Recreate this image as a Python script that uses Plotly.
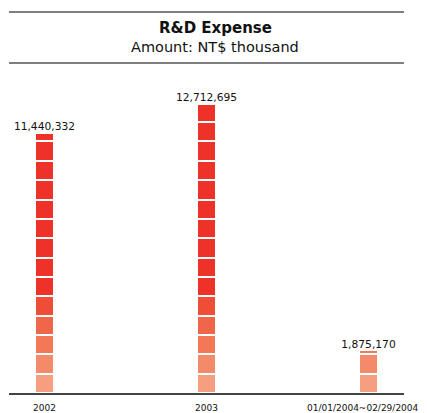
import math
import plotly.graph_objects as go

# ---- data ----
categories = ["2002", "2003", "01/01/2004~02/29/2004"]
values = [11440332, 12712695, 1875170]
value_labels = ["11,440,332", "12,712,695", "1,875,170"]
title_text = "R&D Expense"
subtitle_text = "Amount: NT$ thousand"

# ---- style ----
SEG_UNIT = 850000  # value represented by one block
seg_colors = ["#F59E80", "#F38A6A", "#F27858", "#F0664A", "#EE4E38"]
top_color = "#EE3129"
FONT = "DejaVu Sans"

OFF = 8  # page body margin offset
W, H = 427, 413
PLOT_LEFT, PLOT_RIGHT, PLOT_TOP, PLOT_BOTTOM = 9, 404, 70, 393  # page pixels
ML = PLOT_LEFT - OFF
MR = W - (PLOT_RIGHT - OFF)
MT = PLOT_TOP - OFF
MB = H - (PLOT_BOTTOM - OFF)
plot_h = PLOT_BOTTOM - PLOT_TOP
px_per_unit = 19.35
ymax = plot_h / px_per_unit * SEG_UNIT
title_cx = (215 - PLOT_LEFT) / (PLOT_RIGHT - PLOT_LEFT)
label_xshift = [0, 0, -6]

def py(pix):
    """page pixel row -> paper y"""
    return (PLOT_BOTTOM - pix) / plot_h

fig = go.Figure()
nseg = max(math.ceil(v / SEG_UNIT) for v in values)
for k in range(nseg):
    ys = [max(0, min(SEG_UNIT, v - k * SEG_UNIT)) for v in values]
    color = seg_colors[k] if k < len(seg_colors) else top_color
    fig.add_trace(go.Bar(
        x=categories, y=ys, width=0.12,
        marker=dict(color=color, line=dict(color="white", width=2.4)),
        hoverinfo="skip", showlegend=False,
    ))

# value labels
fig.add_trace(go.Scatter(
    x=categories, y=values, mode="text", text=value_labels,
    textposition="top center", cliponaxis=False,
    textfont=dict(family=FONT, size=10.7, color="#111"),
    hoverinfo="skip", showlegend=False,
))

# category labels under the axis
for i, cat in enumerate(categories):
    fig.add_annotation(x=i, y=0, text=cat, showarrow=False, yanchor="top", xanchor="center",
                       yshift=-8, xshift=label_xshift[i],
                       font=dict(family=FONT, size=9, color="#111"))

# title block
fig.add_annotation(xref="paper", yref="paper", x=title_cx, y=py(28), text="<b>" + title_text + "</b>",
                   showarrow=False, yanchor="middle", font=dict(family=FONT, size=15, color="#111"))
fig.add_annotation(xref="paper", yref="paper", x=title_cx, y=py(47), text=subtitle_text,
                   showarrow=False, yanchor="middle", font=dict(family=FONT, size=14.5, color="#111"))
for yy in (12, 63):
    fig.add_shape(type="line", xref="paper", yref="paper", x0=0, x1=1, y0=py(yy), y1=py(yy),
                  line=dict(color="#555", width=1.5))

fig.update_layout(
    width=W, height=H, margin=dict(l=ML, r=MR, t=MT, b=MB, autoexpand=False),
    barmode="stack", bargap=0, plot_bgcolor="white", paper_bgcolor="white",
    font=dict(family=FONT, size=11, color="#111"),
    xaxis=dict(type="category", range=[-0.219, 2.219], showgrid=False, zeroline=False,
               showline=True, linecolor="#444", linewidth=1.5, ticks="", automargin=False,
               showticklabels=False),
    yaxis=dict(range=[0, ymax], visible=False, showgrid=False, zeroline=False, automargin=False),
)

fig.write_html("out.html")
